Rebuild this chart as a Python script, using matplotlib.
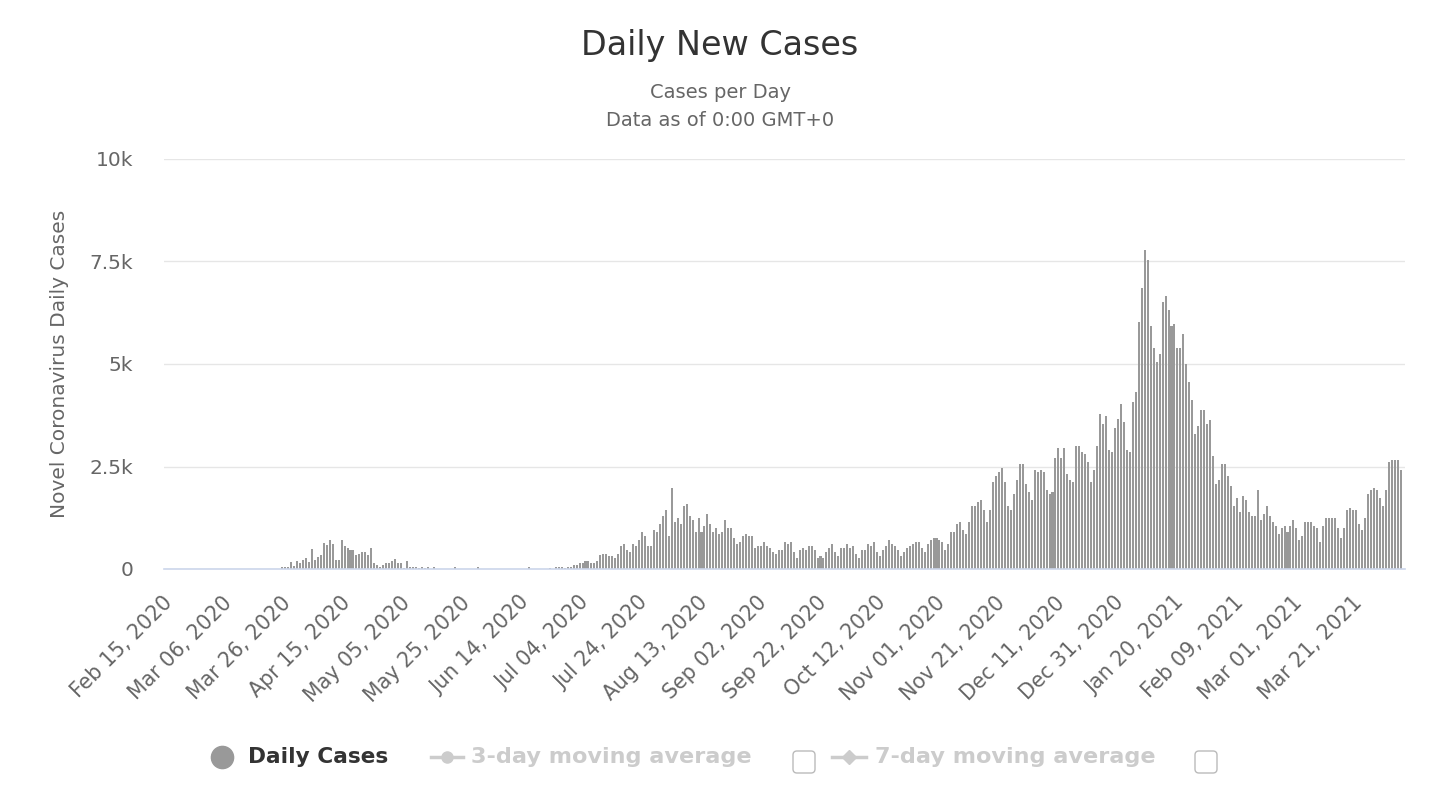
import pandas as pd
import matplotlib
matplotlib.use("Agg")
import matplotlib.pyplot as plt
from matplotlib.lines import Line2D
from matplotlib.patches import FancyBboxPatch

# daily new cases (one list per month, first day Feb 15, 2020)
cases_feb20 = [0, 0, 1, 2, 1, 3, 2, 2, 4, 3, 2, 4, 5, 3, 6]
cases_mar20 = [5, 4, 6, 4, 6, 8, 6, 5, 8, 9, 6, 8, 9, 6, 5, 9, 8, 10, 6, 9, 10, 8, 9,
               50, 60, 40, 170, 70, 200, 150, 210]
cases_apr20 = [260, 160, 500, 210, 300, 350, 630, 580, 700, 600,
               220, 220, 700, 560, 510, 470, 470, 330, 360, 410,
               410, 330, 510, 150, 100, 60, 100, 150, 150, 200]
cases_may20 = [250, 150, 150, 20, 200, 50, 50, 50, 20, 50, 20, 50, 10, 50,
               8, 6, 8, 6, 8, 5, 55, 8, 6, 5, 6, 8, 6, 5, 55, 5, 6]
cases_jun20 = [8, 5, 6, 8, 6, 5, 6, 8, 10, 6, 8, 10, 8, 12,
               50, 10, 8, 12, 10, 8, 12, 14, 10, 50, 50, 50, 30, 50, 50, 100]
cases_jul20 = [100, 150, 150, 200, 200, 150, 150, 200, 330, 366, 366, 317, 317, 270,
               366, 561, 610, 463, 415, 610, 561, 707, 902, 805, 561, 561, 951, 902,
               1098, 1293, 1439]
cases_aug20 = [805, 1976, 1146, 1244, 1098, 1537, 1585, 1293, 1195, 902, 1244, 902,
               1049, 1341, 1098, 902, 1000, 854, 902, 1195, 1000, 1000, 756, 610, 659,
               805, 854, 805, 805, 512, 561]
cases_sep20 = [561, 659, 561, 512, 415, 366, 463, 463, 659, 610, 659, 415, 268, 463,
               512, 463, 561, 561, 463, 268, 317, 268, 415, 512, 610, 415, 317, 512,
               512, 610]
cases_oct20 = [512, 561, 366, 268, 463, 463, 610, 561, 659, 415, 317, 463, 561, 707,
               610, 561, 463, 317, 415, 512, 561, 610, 659, 659, 512, 415, 610, 707,
               756, 756, 707]
cases_nov20 = [659, 463, 610, 902, 902, 1098, 1146, 951, 854, 1146, 1537, 1537, 1634,
               1683, 1439, 1146, 1439, 2122, 2268, 2366, 2463, 2122, 1537, 1439, 1829,
               2171, 2561, 2561, 2073, 1878]
cases_dec20 = [1683, 2415, 2366, 2415, 2366, 1927, 1829, 1878, 2707, 2951, 2707, 2951,
               2317, 2171, 2122, 3000, 3000, 2854, 2805, 2610, 2122, 2415, 3000, 3780,
               3537, 3732, 2902, 2854, 3439, 3660, 4024]
cases_jan21 = [3585, 2902, 2854, 4073, 4317, 6024, 6854, 7780, 7537, 5927, 5390, 5049,
               5244, 6512, 6659, 6317, 5927, 5976, 5390, 5390, 5732, 5000, 4561, 4122,
               3293, 3488, 3878, 3878, 3537, 3634, 2756]
cases_feb21 = [2073, 2171, 2561, 2561, 2268, 2024, 1537, 1732, 1390, 1780, 1683, 1390,
               1293, 1293, 1927, 1195, 1341, 1537, 1293, 1146, 1049, 854, 1000, 1049,
               902, 1049, 1195, 1000]
cases_mar21 = [707, 805, 1146, 1146, 1146, 1049, 1000, 659, 1049, 1244, 1244, 1244,
               1244, 1000, 756, 1000, 1439, 1488, 1439, 1439, 1098, 951, 1244, 1829,
               1927, 1976, 1927, 1732, 1537, 1927, 2610]
cases_apr21 = [2659, 2659, 2659, 2415]

daily_cases = (cases_feb20 + cases_mar20 + cases_apr20 + cases_may20 + cases_jun20
               + cases_jul20 + cases_aug20 + cases_sep20 + cases_oct20 + cases_nov20
               + cases_dec20 + cases_jan21 + cases_feb21 + cases_mar21 + cases_apr21)
dates = pd.date_range("2020-02-15", periods=len(daily_cases), freq="D")

y_ticks = [0, 2500, 5000, 7500, 10000]
y_tick_labels = ["0", "2.5k", "5k", "7.5k", "10k"]
legend_labels = ["Daily Cases", "3-day moving average", "7-day moving average"]

W, H = 1440, 806
fig = plt.figure(figsize=(W / 100, H / 100), dpi=100)
ax = fig.add_axes([164 / W, 1 - 569 / H, (1405 - 164) / W, (569 - 159) / H])

x = list(range(len(daily_cases)))
ax.bar(x, daily_cases, width=0.68, color="#999999", linewidth=0, zorder=2)

ax.set_xlim(-1.7, len(daily_cases) + 0.5)
ax.set_ylim(0, 10000)

# y axis
ax.set_yticks(y_ticks)
ax.set_yticklabels(y_tick_labels)
ax.tick_params(axis="y", length=0, pad=22, labelsize=14.5, labelcolor="#666666")
ax.grid(axis="y", color="#e6e6e6", linewidth=1.0, zorder=0)
ax.set_axisbelow(True)

# x axis: a label every 20 days
tick_idx = list(range(0, len(dates), 20))
ax.set_xticks(tick_idx)
ax.set_xticklabels([dates[i].strftime("%b %d, %Y") for i in tick_idx],
                   rotation=45, ha="right", va="center", rotation_mode="anchor")
ax.tick_params(axis="x", length=0, pad=22, labelsize=14.8, labelcolor="#666666")

for side in ["top", "right", "left"]:
    ax.spines[side].set_visible(False)
ax.spines["bottom"].set_color("#ccd6eb")
ax.spines["bottom"].set_linewidth(1.2)

# titles
fig.text(0.5, 1 - 45 / H, "Daily New Cases", ha="center", va="center",
         fontsize=24, color="#333333")
fig.text(0.5, 1 - 92 / H, "Cases per Day", ha="center", va="center",
         fontsize=14, color="#666666")
fig.text(0.5, 1 - 121 / H, "Data as of 0:00 GMT+0", ha="center", va="center",
         fontsize=14, color="#666666")
fig.text(60 / W, 1 - 364 / H, "Novel Coronavirus Daily Cases", rotation=90,
         ha="center", va="center", fontsize=14.5, color="#666666")

# legend, drawn by hand
ly = 1 - 757 / H
fig.add_artist(Line2D([222 / W], [ly], marker="o", markersize=16, color="#999999",
                      transform=fig.transFigure))
fig.text(248 / W, ly, legend_labels[0], ha="left", va="center", fontsize=15.6,
         fontweight="bold", color="#333333")

fig.add_artist(Line2D([431 / W, 463 / W], [ly, ly], color="#cccccc", linewidth=2.5,
                      transform=fig.transFigure))
fig.add_artist(Line2D([447 / W], [ly], marker="o", markersize=8, color="#cccccc",
                      transform=fig.transFigure))
fig.text(471 / W, ly, legend_labels[1], ha="left", va="center", fontsize=16.1,
         fontweight="bold", color="#cccccc")

fig.add_artist(Line2D([832 / W, 866 / W], [ly, ly], color="#cccccc", linewidth=2.5,
                      transform=fig.transFigure))
fig.add_artist(Line2D([849 / W], [ly], marker="D", markersize=7, color="#cccccc",
                      transform=fig.transFigure))
fig.text(875 / W, ly, legend_labels[2], ha="left", va="center", fontsize=16.1,
         fontweight="bold", color="#cccccc")

for bx in [793, 1195]:
    box = FancyBboxPatch((bx / 100, (H - 773) / 100), 0.22, 0.22,
                         boxstyle="round,pad=0,rounding_size=0.04",
                         transform=fig.dpi_scale_trans, facecolor="white",
                         edgecolor="#bbbbbb", linewidth=1.0)
    fig.add_artist(box)

fig.savefig("out.png", dpi=100)
